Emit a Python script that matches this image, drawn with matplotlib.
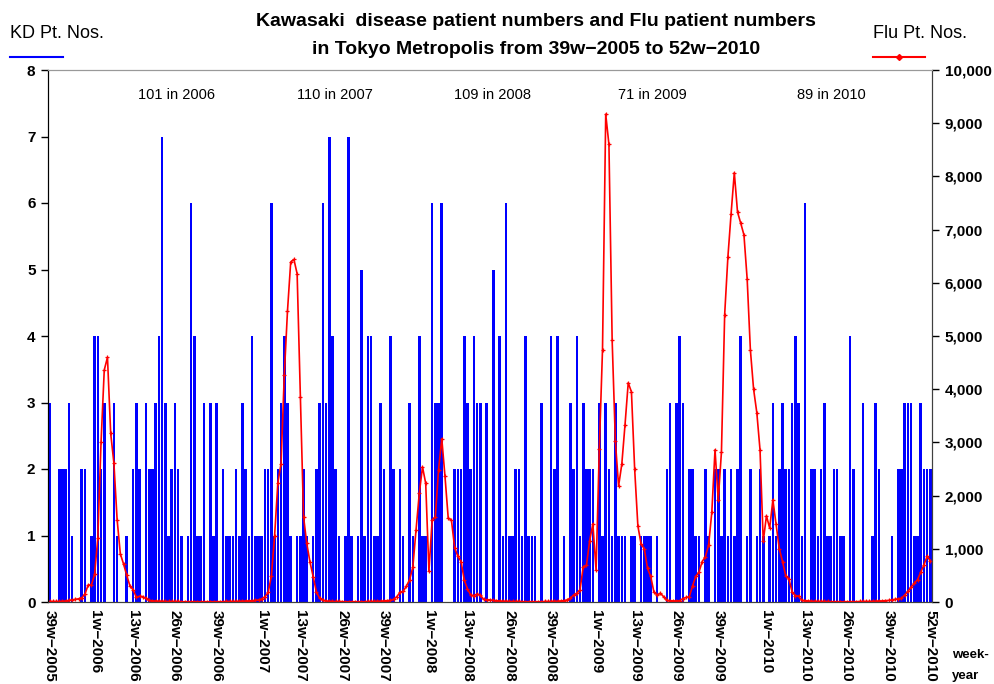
import numpy as np
import matplotlib
matplotlib.use("Agg")
import matplotlib.pyplot as plt
from matplotlib.lines import Line2D
from matplotlib.ticker import FuncFormatter

plt.rcParams['font.family'] = ['Liberation Sans', 'DejaVu Sans']

# Kawasaki disease patients per week, 39w-2005 .. 52w-2010
kd_2005 = [3, 0, 0, 2, 2, 2, 3, 1, 0, 0, 2, 2, 0, 1]
kd_2006 = [4, 4, 2, 3, 0, 0, 3, 1, 0, 0, 1, 0, 2, 3, 2, 0, 3, 2, 2, 3,
           4, 7, 3, 1, 2, 3, 2, 1, 0, 1, 6, 4, 1, 1, 3, 0, 3, 1, 3, 0,
           2, 1, 1, 1, 2, 1, 3, 2, 1, 4, 1, 1]
kd_2007 = [1, 2, 2, 6, 1, 2, 3, 4, 3, 1, 0, 1, 1, 2, 1, 0, 1, 2, 3, 6,
           3, 7, 4, 2, 1, 0, 1, 7, 1, 0, 1, 5, 1, 4, 4, 1, 1, 3, 2, 0,
           4, 2, 0, 2, 1, 0, 3, 1, 0, 4, 1, 1]
kd_2008 = [0, 6, 3, 3, 6, 0, 0, 0, 2, 2, 2, 4, 3, 2, 4, 3, 3, 0, 3, 0,
           5, 0, 4, 1, 6, 1, 1, 2, 2, 1, 4, 1, 1, 1, 0, 3, 0, 0, 4, 2,
           4, 0, 1, 0, 3, 2, 4, 1, 3, 2, 2, 2]
kd_2009 = [0, 3, 1, 3, 2, 1, 3, 1, 1, 1, 0, 1, 1, 0, 1, 1, 1, 1, 0, 1,
           0, 0, 2, 3, 0, 3, 4, 3, 0, 2, 2, 1, 1, 0, 2, 1, 0, 2, 2, 1,
           2, 1, 2, 1, 2, 4, 0, 1, 2, 0, 1, 2, 1]
kd_2010 = [0, 1, 3, 1, 2, 3, 2, 2, 3, 4, 3, 1, 6, 0, 2, 2, 1, 2, 3, 1,
           1, 2, 2, 1, 1, 0, 4, 2, 0, 0, 3, 0, 0, 1, 3, 2, 0, 0, 0, 1,
           0, 2, 2, 3, 3, 3, 1, 1, 3, 2, 2, 2]
kd = kd_2005 + kd_2006 + kd_2007 + kd_2008 + kd_2009 + kd_2010

# Flu patients per week, same weeks
flu = [10, 10, 10, 10, 15, 20, 30, 40, 50, 60,
       80, 150, 320, 320, 520, 1210, 3000, 4360, 4600, 3170,
       2610, 1550, 905, 715, 500, 300, 230, 86, 110, 100,
       66, 30, 20, 20, 15, 15, 10, 10, 10, 10,
       10, 5, 5, 5, 5, 5, 5, 5, 5, 5,
       5, 5, 5, 5, 5, 10, 10, 10, 10, 15,
       15, 20, 20, 25, 30, 40, 60, 100, 180, 495,
       1250, 2240, 2600, 4260, 5470, 6390, 6440, 6170, 3850, 1600,
       1100, 750, 475, 190, 70, 38, 20, 15, 10, 10,
       10, 5, 5, 5, 5, 5, 5, 5, 5, 10,
       10, 10, 15, 15, 20, 25, 30, 50, 100, 180,
       200, 300, 420, 655, 1360, 2040, 2540, 2230, 575, 1540,
       1600, 2490, 3070, 2360, 1580, 1540, 1020, 860, 760, 415,
       245, 130, 120, 150, 130, 50, 40, 40, 30, 25,
       20, 15, 15, 10, 10, 10, 10, 5, 5, 5,
       5, 5, 5, 5, 10, 10, 10, 15, 15, 20,
       25, 40, 70, 130, 165, 230, 660, 690, 1150, 1470,
       600, 2875, 4745, 9170, 8600, 4920, 3020, 2180, 2590, 3330,
       4120, 3950, 2500, 1430, 1090, 1000, 630, 480, 185, 130,
       165, 100, 30, 25, 20, 20, 25, 65, 85, 100,
       300, 480, 560, 760, 850, 1070, 1685, 2860, 1920, 2820,
       5400, 6480, 7300, 8070, 7330, 7120, 6900, 6070, 4740, 4000,
       3560, 2860, 1140, 1620, 1390, 1920, 1460, 1000, 760, 495,
       430, 185, 120, 110, 30, 25, 20, 15, 15, 10,
       10, 10, 10, 5, 5, 5, 5, 5, 5, 5,
       5, 5, 10, 10, 10, 10, 15, 15, 20, 20,
       25, 30, 40, 50, 60, 70, 130, 200, 280, 350,
       420, 560, 700, 860, 770]

tick_idx = [0, 14, 26, 39, 52, 66, 78, 91, 104, 118, 130, 143, 156,
            170, 182, 195, 208, 223, 235, 248, 261, 274]
tick_labels = ['39w−2005', '1w−2006', '13w−2006', '26w−2006', '39w−2006',
               '1w−2007', '13w−2007', '26w−2007', '39w−2007', '1w−2008',
               '13w−2008', '26w−2008', '39w−2008', '1w−2009', '13w−2009',
               '26w−2009', '39w−2009', '1w−2010', '13w−2010', '26w−2010',
               '39w−2010', '52w−2010']

year_notes = ['101 in 2006', '110 in 2007', '109 in 2008', '71 in 2009', '89 in 2010']
note_x = [176, 335, 493, 652, 831]

W, H = 995, 684
fig = plt.figure(figsize=(W / 100, H / 100), dpi=100)
ax = fig.add_axes([48 / W, (H - 602) / H, 884 / W, 532 / H])

x = np.arange(len(kd))
ax.bar(x, kd, width=0.8, color='#0000FF', zorder=2)
ax.set_xlim(-0.5, len(kd) - 0.5)
ax.set_ylim(0, 8)
ax.set_yticks(range(9))
ax.tick_params(axis='y', direction='out', length=5, width=1, pad=4, labelsize=11)
for lbl in ax.get_yticklabels():
    lbl.set_fontweight('bold')
ax.set_xticks(tick_idx)
ax.set_xticklabels(tick_labels, rotation=270, fontsize=11, fontweight='bold',
                   ha='center', va='top')
ax.tick_params(axis='x', length=0, pad=6)

ax2 = ax.twinx()
ax2.plot(x, flu, color='#FF0000', lw=1.2, marker='+', ms=3, mew=0.9)
ax2.set_ylim(0, 10000)
ax2.set_yticks(range(0, 10001, 1000))
ax2.yaxis.set_major_formatter(FuncFormatter(lambda v, p: f'{int(v):,}'))
ax2.tick_params(axis='y', direction='out', length=5, width=1, pad=4, labelsize=11)
for lbl in ax2.get_yticklabels():
    lbl.set_fontweight('bold')

for a in (ax, ax2):
    a.spines['top'].set_color('#999999')
    a.spines['left'].set_color('black')
    a.spines['right'].set_color('#404040')
    a.spines['bottom'].set_color('#404040')

for t, px in zip(year_notes, note_x):
    fig.text(px / W, 1 - 95 / H, t, ha='center', va='center', fontsize=10.5)

fig.text(536 / W, 1 - 21 / H, 'Kawasaki  disease patient numbers and Flu patient numbers',
         ha='center', va='center', fontsize=14, fontweight='bold')
fig.text(536 / W, 1 - 50 / H, 'in Tokyo Metropolis from 39w−2005 to 52w−2010',
         ha='center', va='center', fontsize=14, fontweight='bold')

fig.text(10 / W, 1 - 33 / H, 'KD Pt. Nos.', ha='left', va='center', fontsize=13)
fig.add_artist(Line2D([10 / W, 63 / W], [1 - 57 / H, 1 - 57 / H], color='#0000FF', lw=1.5))
fig.text(873 / W, 1 - 33 / H, 'Flu Pt. Nos.', ha='left', va='center', fontsize=13)
fig.add_artist(Line2D([873 / W, 925 / W], [1 - 57 / H, 1 - 57 / H], color='#FF0000', lw=1.5))
fig.add_artist(Line2D([899 / W], [1 - 57 / H], color='#FF0000', marker='D', ms=3))

fig.text(952 / W, 1 - 655 / H, 'week-', ha='left', va='center', fontsize=9.5, fontweight='bold')
fig.text(952 / W, 1 - 676 / H, 'year', ha='left', va='center', fontsize=9.5, fontweight='bold')

fig.savefig('out.png', dpi=100)
